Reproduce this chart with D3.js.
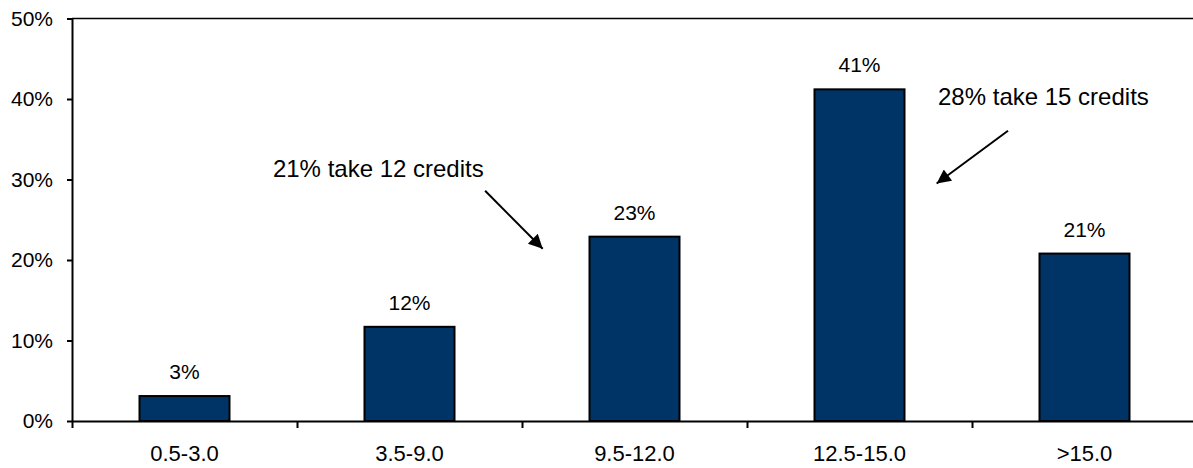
<!DOCTYPE html>
<html>
<head>
<meta charset="utf-8">
<script src="https://cdn.jsdelivr.net/npm/d3@7"></script>
<style>
  html, body { margin: 0; padding: 0; background: #fff; }
  svg { display: block; font-family: "Liberation Sans", Arial, sans-serif; }
</style>
</head>
<body>
<svg id="chart" width="1193" height="468"></svg>
<script>
const categories = ["0.5-3.0", "3.5-9.0", "9.5-12.0", "12.5-15.0", ">15.0"];
const values = [3.1, 11.7, 22.9, 41.2, 20.8];
const valueLabels = ["3%", "12%", "23%", "41%", "21%"];
const yTicks = [0, 10, 20, 30, 40, 50];
const noteTexts = ["21% take 12 credits", "28% take 15 credits"];
// annotation anchors in data units: [category-position, percent]
const noteText = [[0.893, 30.37], [3.849, 39.25]];
const noteArrowFrom = [[1.836, 28.6], [4.16, 36.06]];
const noteArrowTo = [[2.092, 21.4], [3.843, 29.5]];

const svg = d3.select("#chart");
const mLeft = 72, mRight = 1197, mTop = 18.5, mBottom = 421;

const x = d3.scaleBand().domain(categories).range([mLeft, mRight]).paddingInner(0.6).paddingOuter(0.3);
const xPos = d3.scaleLinear().domain([0, categories.length]).range([mLeft, mRight]);
const y = d3.scaleLinear().domain([0, 50]).range([mBottom, mTop]);

const ink = "#000";

// top border line
svg.append("line").attr("x1", mLeft).attr("x2", 1193).attr("y1", y(50)).attr("y2", y(50))
  .attr("stroke", ink).attr("stroke-width", 1.5);

// Y axis
const yAxis = svg.append("g").attr("transform", `translate(${mLeft},0)`)
  .call(d3.axisLeft(y).tickValues(yTicks).tickFormat(d => d + "%").tickSize(5).tickSizeOuter(0));
yAxis.select(".domain").attr("stroke", ink).attr("stroke-width", 2);
yAxis.selectAll(".tick line").attr("stroke", ink).attr("stroke-width", 2);
yAxis.selectAll(".tick text").attr("font-size", 21).attr("fill", ink).attr("x", -19)
  .attr("font-family", "Liberation Sans, Arial, sans-serif");

// Bars
svg.append("g").selectAll("rect").data(values).join("rect")
  .attr("x", (d, i) => x(categories[i]))
  .attr("y", d => y(d))
  .attr("width", x.bandwidth())
  .attr("height", d => y(0) - y(d))
  .attr("fill", "#003366")
  .attr("stroke", ink)
  .attr("stroke-width", 2);

// X axis
const xAxis = svg.append("g").attr("transform", `translate(0,${mBottom})`)
  .call(d3.axisBottom(xPos).tickValues(d3.range(0, categories.length + 1)).tickFormat("").tickSize(7).tickSizeOuter(0));
xAxis.select(".domain").attr("stroke", ink).attr("stroke-width", 2);
xAxis.selectAll(".tick line").attr("stroke", ink).attr("stroke-width", 2);

// X category labels
svg.append("g").selectAll("text").data(categories).join("text")
  .attr("x", d => x(d) + x.bandwidth() / 2)
  .attr("y", 461)
  .attr("text-anchor", "middle")
  .attr("font-size", 22)
  .attr("fill", ink)
  .text(d => d);

// Value labels
svg.append("g").selectAll("text").data(values).join("text")
  .attr("x", (d, i) => x(categories[i]) + x.bandwidth() / 2)
  .attr("y", d => y(d) - 17)
  .attr("text-anchor", "middle")
  .attr("font-size", 21)
  .attr("fill", ink)
  .text((d, i) => valueLabels[i]);

// Annotations
svg.append("defs").append("marker")
  .attr("id", "ah").attr("viewBox", "0 0 10 10").attr("refX", 10).attr("refY", 5)
  .attr("markerWidth", 18).attr("markerHeight", 14).attr("markerUnits", "userSpaceOnUse")
  .attr("orient", "auto")
  .append("path").attr("d", "M0,0 L10,5 L0,10 Z").attr("fill", ink);

svg.append("g").selectAll("text").data(noteTexts).join("text")
  .attr("x", (d, i) => xPos(noteText[i][0]))
  .attr("y", (d, i) => y(noteText[i][1]))
  .attr("font-size", 24)
  .attr("fill", ink)
  .text(d => d);

svg.append("g").selectAll("line").data(noteTexts).join("line")
  .attr("x1", (d, i) => xPos(noteArrowFrom[i][0]))
  .attr("y1", (d, i) => y(noteArrowFrom[i][1]))
  .attr("x2", (d, i) => xPos(noteArrowTo[i][0]))
  .attr("y2", (d, i) => y(noteArrowTo[i][1]))
  .attr("stroke", ink)
  .attr("stroke-width", 2)
  .attr("marker-end", "url(#ah)");
</script>
</body>
</html>
